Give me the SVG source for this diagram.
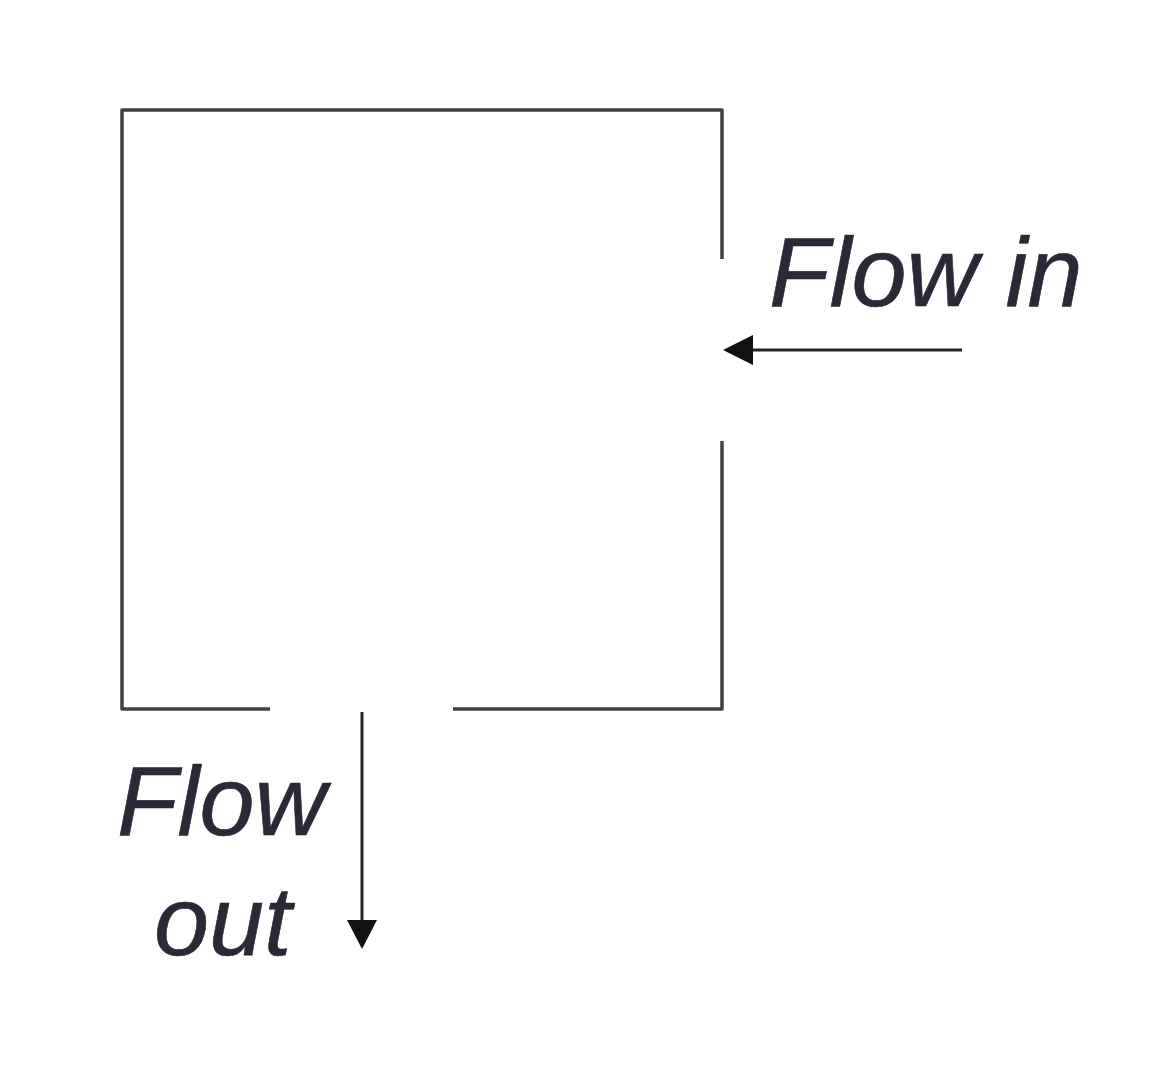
<svg xmlns="http://www.w3.org/2000/svg" width="1156" height="1077" viewBox="0 0 1156 1077">
<style>
.wall{fill:none;stroke:#404040;stroke-width:3.5;stroke-linejoin:round}
.arr{fill:none;stroke:#222;stroke-width:3}
.lbl{font-family:"Liberation Sans",Arial,sans-serif;font-style:italic;font-size:99px;fill:#2a2a36;stroke:#2a2a36;stroke-width:0.6}
</style>
<rect width="1156" height="1077" fill="#fff"/>
<g id="tank">
<path class="wall" d="M722,259 V110 H122 V709 H270"/>
<path class="wall" d="M453,709 H722 V441"/>
</g>
<g id="connectors">
<line class="arr" x1="962" y1="350" x2="752" y2="350"/>
<path d="M723,350 L753,335 L753,365 Z" fill="#111"/>
<line class="arr" x1="362" y1="712" x2="362" y2="922"/>
<path d="M362,949 L347,920 L377,920 Z" fill="#111"/>
</g>
<g id="label-in"><text class="lbl" x="769" y="306">Flow in</text></g>
<g id="label-out">
<text class="lbl" x="117" y="835">Flow</text>
<text class="lbl" x="154" y="955">out</text>
</g>
</svg>
